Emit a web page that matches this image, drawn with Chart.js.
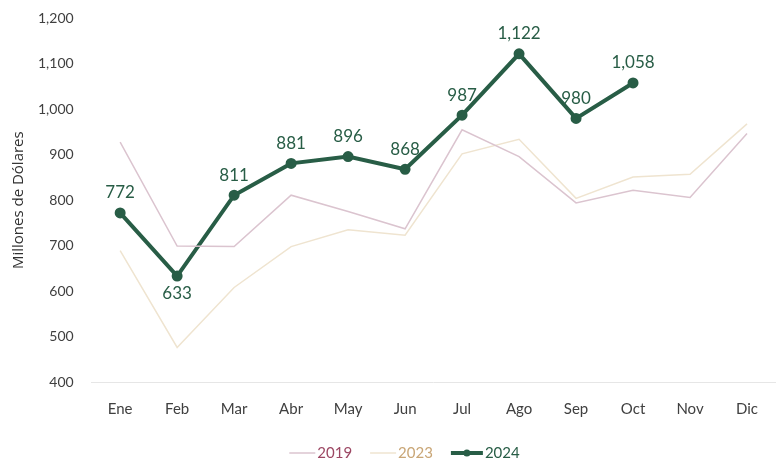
<!DOCTYPE html>
<html lang="es">
<head>
    <meta charset="UTF-8">
    <title>Millones de Dólares por mes</title>
    <script src="https://cdn.jsdelivr.net/npm/chart.js"></script>
    <style>
        html, body {
            margin: 0;
            padding: 0;
            background: #fff;
        }
        .chart-container {
            position: relative;
            width: 783px;
            height: 461px;
        }
    </style>
</head>
<body>
    <div class="chart-container">
        <canvas id="mainChart"></canvas>
    </div>

    <script>
        // Datos
        const meses = ['Ene', 'Feb', 'Mar', 'Abr', 'May', 'Jun', 'Jul', 'Ago', 'Sep', 'Oct', 'Nov', 'Dic'];
        const valores2019 = [928, 699, 698, 811, 775, 737, 955, 896, 794, 822, 806, 947];
        const valores2023 = [689, 476, 608, 698, 735, 723, 902, 934, 804, 851, 857, 968];
        const valores2024 = [772, 633, 811, 881, 896, 868, 987, 1122, 980, 1058];
        // etiquetas que van debajo del punto
        const etiquetasAbajo = ['Feb'];

        const verde = '#285d46';
        const fuente = 'Lato, "Open Sans", sans-serif';

        // leyenda: linea, color del texto, grosor, punto
        const leyenda = [
            { text: '2019', linea: '#dbc4cf', texto: '#9c4763', grosor: 1.5, punto: false, largo: 26 },
            { text: '2023', linea: '#efe4d0', texto: '#c9a676', grosor: 1.5, punto: false, largo: 26 },
            { text: '2024', linea: verde, texto: verde, grosor: 4, punto: true, largo: 32 }
        ];

        // etiquetas de valores para 2024
        const etiquetasValores = {
            id: 'etiquetasValores',
            afterDatasetsDraw(chart) {
                const ctx = chart.ctx;
                const meta = chart.getDatasetMeta(2);
                ctx.save();
                ctx.font = '17px ' + fuente;
                ctx.fillStyle = verde;
                ctx.textAlign = 'center';
                ctx.textBaseline = 'middle';
                meta.data.forEach((punto, i) => {
                    const valor = valores2024[i];
                    const abajo = etiquetasAbajo.includes(meses[i]);
                    const y = abajo ? punto.y + 17 : punto.y - 20;
                    ctx.fillText(valor.toLocaleString('en-US'), punto.x, y);
                });
                ctx.restore();
            }
        };

        // leyenda dibujada a mano abajo
        const leyendaAbajo = {
            id: 'leyendaAbajo',
            afterDraw(chart) {
                const ctx = chart.ctx;
                ctx.save();
                ctx.font = '15px ' + fuente;
                ctx.textBaseline = 'middle';
                const gap = 2, sep = 18;
                let total = 0;
                leyenda.forEach((it, i) => {
                    total += it.largo + gap + ctx.measureText(it.text).width;
                    if (i < leyenda.length - 1) total += sep;
                });
                let x = chart.width / 2 - total / 2 + 13;
                const y = 453;
                leyenda.forEach(it => {
                    ctx.strokeStyle = it.linea;
                    ctx.lineWidth = it.grosor;
                    ctx.beginPath();
                    ctx.moveTo(x, y);
                    ctx.lineTo(x + it.largo, y);
                    ctx.stroke();
                    if (it.punto) {
                        ctx.fillStyle = it.linea;
                        ctx.beginPath();
                        ctx.arc(x + it.largo / 2, y, 3.5, 0, Math.PI * 2);
                        ctx.fill();
                    }
                    x += it.largo + gap;
                    ctx.fillStyle = it.texto;
                    ctx.fillText(it.text, x, y);
                    x += ctx.measureText(it.text).width + sep;
                });
                ctx.restore();
            }
        };

        new Chart(document.getElementById('mainChart'), {
            type: 'line',
            data: {
                labels: meses,
                datasets: [{
                    label: '2019',
                    data: valores2019,
                    borderColor: '#dbc4cf',
                    borderWidth: 1.5,
                    pointRadius: 0,
                    tension: 0
                }, {
                    label: '2023',
                    data: valores2023,
                    borderColor: '#efe4d0',
                    borderWidth: 1.5,
                    pointRadius: 0,
                    tension: 0
                }, {
                    label: '2024',
                    data: valores2024,
                    borderColor: verde,
                    backgroundColor: verde,
                    borderWidth: 4,
                    pointRadius: 3.5,
                    pointHoverRadius: 3.5,
                    tension: 0
                }]
            },
            options: {
                responsive: true,
                maintainAspectRatio: false,
                animation: false,
                layout: {
                    padding: { top: 16, right: 6, left: 10, bottom: 33 }
                },
                plugins: {
                    tooltip: { enabled: false },
                    legend: { display: false }
                },
                scales: {
                    x: {
                        offset: true,
                        grid: { display: false },
                        border: { color: '#e6e6e6', width: 1 },
                        ticks: {
                            color: '#404040',
                            padding: 10,
                            font: { family: fuente, size: 15 }
                        }
                    },
                    y: {
                        min: 400,
                        max: 1200,
                        grid: { display: false },
                        border: { display: false },
                        ticks: {
                            stepSize: 100,
                            color: '#404040',
                            padding: 10,
                            font: { family: fuente, size: 14 },
                            callback: v => v.toLocaleString('en-US')
                        },
                        title: {
                            display: true,
                            text: 'Millones de Dólares',
                            color: '#303030',
                            padding: 0,
                            font: { family: '"Open Sans", sans-serif', size: 15 }
                        }
                    }
                }
            },
            plugins: [etiquetasValores, leyendaAbajo]
        });
    </script>
</body>
</html>
